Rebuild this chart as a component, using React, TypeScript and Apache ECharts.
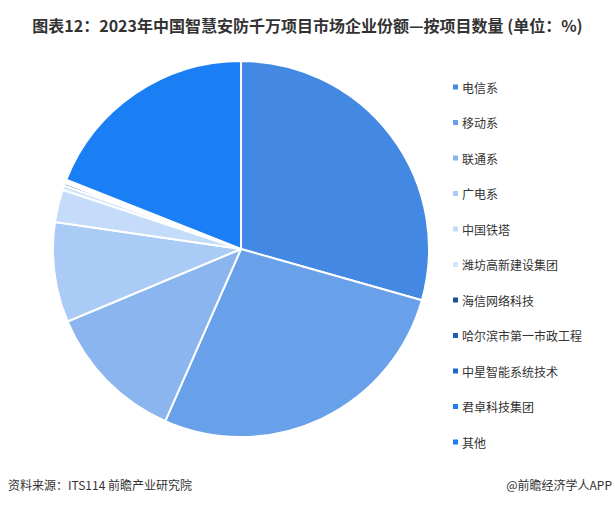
import React, { useEffect, useRef } from "react";
import * as echarts from "echarts";

const categories = ["电信系", "移动系", "联通系", "广电系", "中国铁塔", "潍坊高新建设集团", "海信网络科技", "哈尔滨市第一市政工程", "中星智能系统技术", "君卓科技集团", "其他"];
const values = [29.4, 27.2, 12.1, 8.6, 2.8, 0.4, 0.2, 0.1, 0.1, 0.1, 19.0];
const colors = ["#4388e2", "#68a0ea", "#8bb5ef", "#a9cbf5", "#c4dcf9", "#d3e6fb", "#1c4e9a", "#1f5cb3", "#1f66cc", "#1e7ee8", "#1a7ef5"];

export default function App() {
  const ref = useRef<HTMLDivElement>(null);
  useEffect(() => {
    const chart = echarts.init(ref.current!, null, { renderer: "svg" });
    chart.setOption({
      animation: false,
      color: colors,
      title: {
        text: "图表12：2023年中国智慧安防千万项目市场企业份额—按项目数量 (单位：%)",
        left: "center",
        top: 12,
        textStyle: { fontSize: 16, fontWeight: "bold", color: "#333", fontFamily: "Noto Sans CJK SC" },
      },
      legend: {
        orient: "vertical",
        left: 446,
        top: 76,
        itemWidth: 7,
        itemHeight: 7,
        itemGap: 23.5,
        icon: "rect",
        textStyle: { fontSize: 12, color: "#333", fontFamily: "Noto Sans CJK SC", padding: [0, 0, 0, -2] },
        data: categories,
      },
      graphic: [
        { type: "text", left: 8, top: 478, style: { text: "资料来源：ITS114 前瞻产业研究院", fontSize: 12, fill: "#333", fontFamily: "Noto Sans CJK SC" } },
        { type: "text", right: 3, top: 478, style: { text: "@前瞻经济学人APP", fontSize: 12, fill: "#333", fontFamily: "Noto Sans CJK SC" } },
      ],
      series: [
        {
          type: "pie",
          center: [241, 249],
          radius: [0, 188],
          startAngle: 90,
          clockwise: true,
          label: { show: false },
          labelLine: { show: false },
          itemStyle: { borderColor: "#fff", borderWidth: 2 },
          data: categories.map((c, i) => ({ name: c, value: values[i] })),
        },
      ],
    });
    return () => chart.dispose();
  }, []);
  return <div ref={ref} style={{ width: 615, height: 506, position: "absolute", left: 0, top: 0 }} />;
}
